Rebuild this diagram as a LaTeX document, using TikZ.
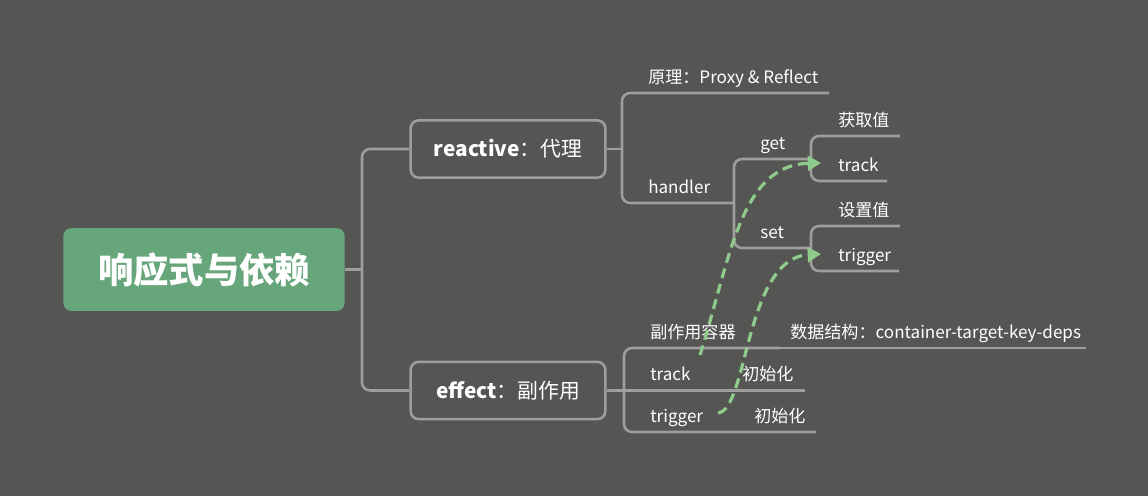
\documentclass[tikz,border=0pt]{standalone}
\usepackage{fontspec}
\setmainfont{Noto Sans CJK SC}
\usetikzlibrary{arrows.meta}
\definecolor{bg}{RGB}{85,86,83}
\definecolor{ln}{RGB}{158,158,156}
\definecolor{rootg}{RGB}{103,165,122}
\definecolor{dg}{RGB}{143,203,139}
\begin{document}
\begin{tikzpicture}[x=0.75pt,y=-0.75pt,
  lbl/.style={text=white, font=\fontsize{12.8}{15}\selectfont, anchor=base west, inner sep=0pt},
  conn/.style={draw=ln, line width=1.9pt, rounded corners=6pt},
  topic/.style={draw=ln, line width=1.9pt, rounded corners=6pt, minimum width=146pt, minimum height=43pt, text=white, font=\fontsize{15.6}{18}\selectfont, inner sep=0pt},
  link/.style={draw=dg, line width=2.4pt, dash pattern=on 7.5pt off 4.5pt, -{Triangle[length=10pt,width=11pt]}}
]
\fill[bg] (0,0) rectangle (1148,496);
\useasboundingbox (0,0) rectangle (1148,496);

% root
\node[fill=rootg, rounded corners=6pt, minimum width=211pt, minimum height=62pt, text=white, inner sep=0pt, font=\fontsize{26.5}{30}\selectfont\bfseries] (root) at (204,269.5) {响应式与依赖};

% main topics
\node[topic] (reactive) at (508,149) {\textbf{reactive}：代理};
\node[topic] (effect) at (508,390.5) {\textbf{effect}：副作用};

\coordinate (s0) at (362,269.5);
\draw[conn] (root.east) -- (s0);
\draw[conn] (reactive.west) -| (s0) |- (effect.west);

% reactive children
\coordinate (s1) at (622,149);
\coordinate (yuanliEnd) at (829,93);
\coordinate (handlerEnd) at (734,203);
\draw[conn] (reactive.east) -- (s1);
\draw[conn] (yuanliEnd) -| (s1) |- (handlerEnd);
\node[lbl] (yuanli) at (648,83) {原理：Proxy \& Reflect};
\node[lbl] (handler) at (648,193) {handler};

% handler children
\coordinate (getEnd) at (811,159);
\coordinate (setEnd) at (811,248);
\draw[conn] (getEnd) -| (handlerEnd) |- (setEnd);
\node[lbl] (get) at (760,149) {get};
\node[lbl] (set) at (760,238) {set};

% get children
\coordinate (huoquEnd) at (900,136);
\coordinate (trackAEnd) at (887,181);
\draw[conn] (huoquEnd) -| (getEnd) |- (trackAEnd);
\node[lbl] (huoqu) at (838,126) {获取值};
\node[lbl] (trackA) at (838,171) {track};

% set children
\coordinate (shezhiEnd) at (900,226);
\coordinate (triggerAEnd) at (899,271);
\draw[conn] (shezhiEnd) -| (setEnd) |- (triggerAEnd);
\node[lbl] (shezhi) at (838,216) {设置值};
\node[lbl] (triggerA) at (838,261) {trigger};

% effect children
\coordinate (s2) at (624,390.5);
\coordinate (rongqiEnd) at (780,348);
\coordinate (jiegouEnd) at (1086,348);
\coordinate (trackBEnd) at (740,390.5);
\coordinate (initAEnd) at (805,390.5);
\coordinate (triggerBEnd) at (745,432);
\coordinate (initBEnd) at (816,432);
\draw[conn] (effect.east) -- (s2);
\draw[conn] (rongqiEnd) -| (s2) |- (initBEnd);
\draw[conn] (s2) -- (trackBEnd) -- (initAEnd);
\draw[conn] (rongqiEnd) -- (jiegouEnd);
\node[lbl] (rongqi) at (650,338) {副作用容器};
\node[lbl] (jiegou) at (790,338) {数据结构：container-target-key-deps};
\node[lbl] (trackB) at (650,380) {track};
\node[lbl] (initA) at (742,380) {初始化};
\node[lbl] (triggerB) at (650,422) {trigger};
\node[lbl] (initB) at (754,422) {初始化};

% dashed links
\coordinate (l1s) at (700,355);
\coordinate (l1e) at (821,163);
\coordinate (l2s) at (718,413);
\coordinate (l2e) at (821,254);
\draw[link] (l1s) .. controls (730,260) and (740,165) .. (l1e);
\draw[link] (l2s) .. controls (748,410) and (745,258) .. (l2e);
\end{tikzpicture}
\end{document}
